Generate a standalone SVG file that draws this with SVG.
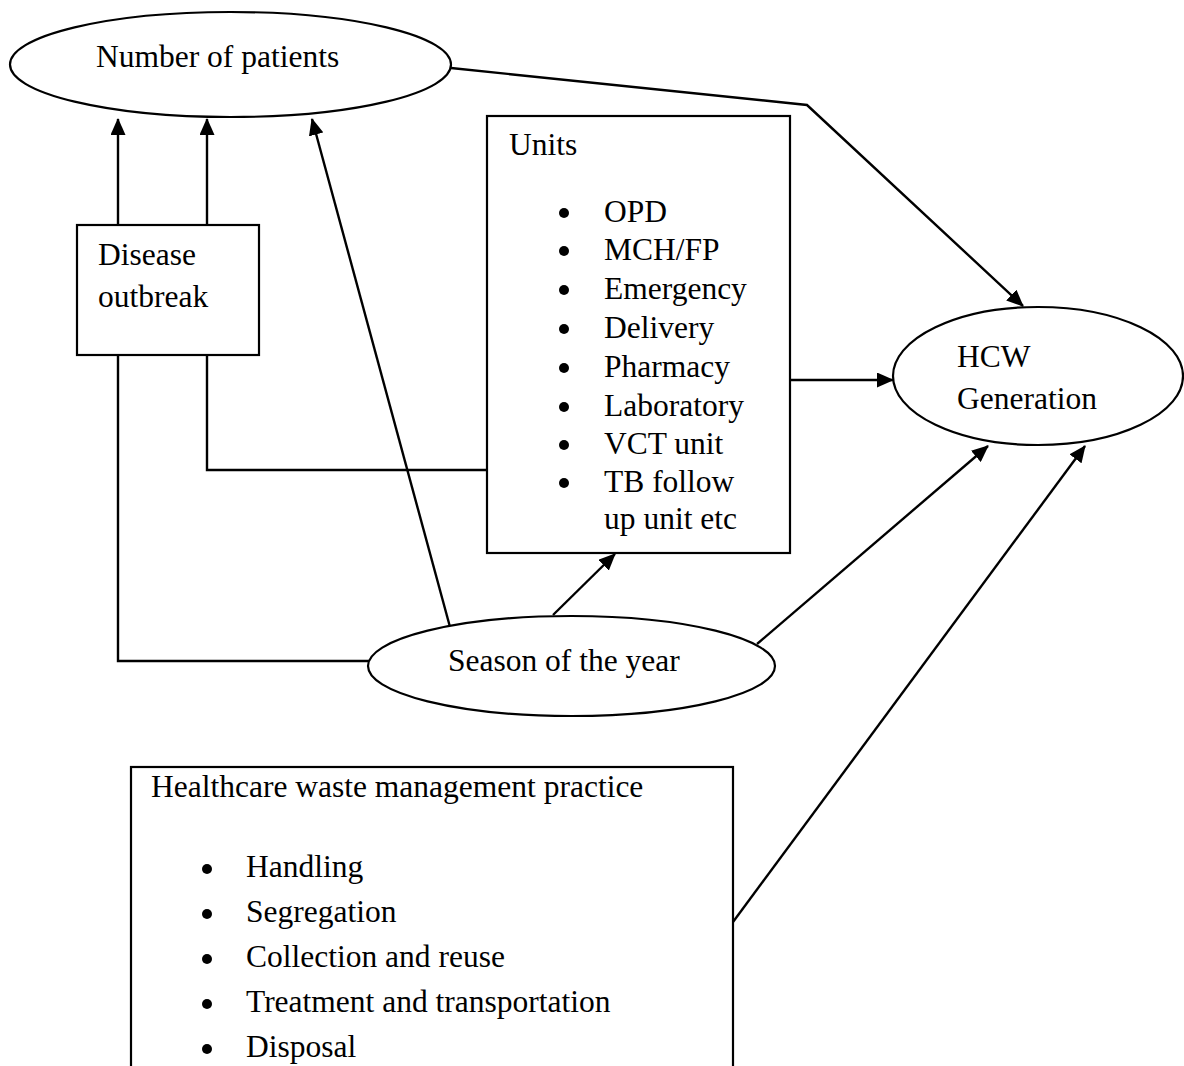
<svg xmlns="http://www.w3.org/2000/svg" width="1184" height="1066" viewBox="0 0 1184 1066">
<style>
  .shape { fill: #fff; stroke: #000; stroke-width: 2.2; }
  .conn { fill: none; stroke: #000; stroke-width: 2.4; }
  .t { font-family: "Liberation Serif", "Times New Roman", serif; font-size: 31.5px; fill: #000; }
  .b { fill: #000; }
</style>
<defs>
  <marker id="arr" markerUnits="userSpaceOnUse" markerWidth="17" markerHeight="15" refX="16" refY="7.5" orient="auto">
    <path d="M0,0 L17,7.5 L0,15 z" fill="#000"/>
  </marker>
</defs>

<rect width="1184" height="1066" fill="#fff"/>

<g id="connectors">
  <line class="conn" x1="118" y1="225" x2="118" y2="119" marker-end="url(#arr)"/>
  <line class="conn" x1="207" y1="225" x2="207" y2="119" marker-end="url(#arr)"/>
  <polyline class="conn" points="118,355 118,661 369,661"/>
  <polyline class="conn" points="207,355 207,470 487,470"/>
  <line class="conn" x1="450" y1="627" x2="312" y2="119" marker-end="url(#arr)"/>
  <line class="conn" x1="553" y1="615" x2="615" y2="554" marker-end="url(#arr)"/>
  <line class="conn" x1="757" y1="644" x2="988" y2="446" marker-end="url(#arr)"/>
  <line class="conn" x1="790" y1="380" x2="893" y2="380" marker-end="url(#arr)"/>
  <polyline class="conn" points="451,68 807,105 1023,306" marker-end="url(#arr)"/>
  <line class="conn" x1="733" y1="922" x2="1085" y2="446" marker-end="url(#arr)"/>
</g>

<g id="number-of-patients">
  <ellipse class="shape" cx="230.5" cy="64.5" rx="220.5" ry="52.5"/>
  <text class="t" x="96" y="67">Number of patients</text>
</g>

<g id="disease-outbreak">
  <rect class="shape" x="77" y="225" width="182" height="130"/>
  <text class="t" x="98" y="265">Disease</text>
  <text class="t" x="98" y="307">outbreak</text>
</g>

<g id="units">
  <rect class="shape" x="487" y="116" width="303" height="437"/>
  <text class="t" x="509" y="155">Units</text>
  <circle class="b" cx="564" cy="213" r="5"/><text class="t" x="604" y="222">OPD</text>
  <circle class="b" cx="564" cy="251" r="5"/><text class="t" x="604" y="260">MCH/FP</text>
  <circle class="b" cx="564" cy="290" r="5"/><text class="t" x="604" y="299">Emergency</text>
  <circle class="b" cx="564" cy="329" r="5"/><text class="t" x="604" y="338">Delivery</text>
  <circle class="b" cx="564" cy="368" r="5"/><text class="t" x="604" y="377">Pharmacy</text>
  <circle class="b" cx="564" cy="407" r="5"/><text class="t" x="604" y="416">Laboratory</text>
  <circle class="b" cx="564" cy="445" r="5"/><text class="t" x="604" y="454">VCT unit</text>
  <circle class="b" cx="564" cy="483" r="5"/><text class="t" x="604" y="492">TB follow</text>
  <text class="t" x="604" y="529">up unit etc</text>
</g>

<g id="hcw-generation">
  <ellipse class="shape" cx="1038" cy="376" rx="145" ry="69"/>
  <text class="t" x="957" y="367">HCW</text>
  <text class="t" x="957" y="409">Generation</text>
</g>

<g id="season-of-the-year">
  <ellipse class="shape" cx="571.5" cy="666" rx="203.5" ry="50"/>
  <text class="t" x="448" y="671">Season of the year</text>
</g>

<g id="hcw-management-practice">
  <rect class="shape" x="131" y="767" width="602" height="320"/>
  <text class="t" x="151" y="797">Healthcare waste management practice</text>
  <circle class="b" cx="207" cy="869" r="5"/><text class="t" x="246" y="877">Handling</text>
  <circle class="b" cx="207" cy="914" r="5"/><text class="t" x="246" y="922">Segregation</text>
  <circle class="b" cx="207" cy="959" r="5"/><text class="t" x="246" y="967">Collection and reuse</text>
  <circle class="b" cx="207" cy="1004" r="5"/><text class="t" x="246" y="1012">Treatment and transportation</text>
  <circle class="b" cx="207" cy="1049" r="5"/><text class="t" x="246" y="1057">Disposal</text>
</g>
</svg>
